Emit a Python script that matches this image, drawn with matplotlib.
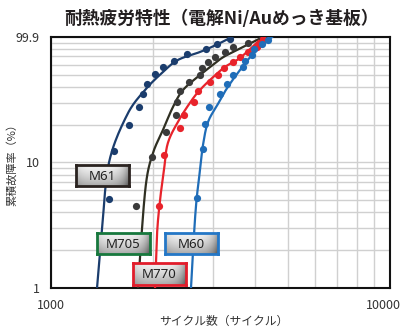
import numpy as np
import matplotlib
matplotlib.use('Agg')
import matplotlib.pyplot as plt
import matplotlib.transforms as mtransforms
from matplotlib.ticker import LogLocator, NullFormatter

plt.rcParams['font.family'] = ['Noto Sans CJK JP', 'DejaVu Sans']

# measured points: cycles to failure and cumulative failure rate (%)
m61_cycles = [1483, 1534, 1699, 1818, 1868, 1920, 2027, 2140, 2306, 2519, 2865, 3088, 3373]
m61_pct = [5.1, 12.4, 19.9, 27.7, 35.1, 42.2, 50.7, 57.7, 64.4, 73.2, 80.2, 87.9, 96.4]

m705_cycles = [1781, 1986, 2184, 2338, 2354, 2402, 2554, 2751, 2789, 2905, 3046, 3261, 3443, 3813, 4193]
m705_pct = [4.5, 11.1, 17.5, 23.9, 30.3, 37.1, 43.8, 49.8, 56.6, 63.2, 69.3, 75.9, 83.2, 89.6, 95.5]

m770_cycles = [2083, 2154, 2402, 2468, 2642, 2714, 2944, 3109, 3239, 3443, 3611, 3813, 4053, 4136, 4222]
m770_pct = [4.5, 11.4, 18.8, 23.9, 30.3, 37.1, 43.8, 49.8, 56.6, 63.2, 69.3, 75.9, 83.2, 89.6, 95.5]

m60_cycles = [2696, 2808, 2847, 2925, 3151, 3306, 3443, 3686, 3736, 3918, 3972, 4193, 4368]
m60_pct = [5.2, 12.7, 20.1, 27.6, 35.1, 42.5, 50.0, 57.5, 64.9, 72.4, 79.9, 87.3, 94.8]

# fitted distribution lines (cycles, %)
m61_fit_cycles = [1367, 1414, 1483, 1676, 1894, 2140, 2369, 2751, 3068, 3418]
m61_fit_pct = [1, 2.9, 10, 23.9, 37.8, 52.6, 65.6, 75.9, 86.3, 99.9]

m705_fit_cycles = [1806, 1840, 1908, 1999, 2140, 2290, 2452, 2751, 3001, 3195, 3443, 4222]
m705_fit_pct = [1, 2.2, 6.9, 11.9, 18.2, 27.7, 37.8, 49.8, 59.8, 68.1, 75.9, 99.9]

m770_fit_cycles = [2027, 2055, 2097, 2154, 2212, 2386, 2605, 2751, 2944, 3261, 3611, 4222]
m770_fit_pct = [1, 2.7, 5.0, 8.7, 14.3, 21.8, 31.5, 37.8, 45.4, 57.7, 68.1, 99.9]

m60_fit_cycles = [2588, 2624, 2679, 2751, 2808, 2905, 3109, 3280, 3538, 3944, 4489]
m60_fit_pct = [1, 2.0, 4.6, 8.7, 13.8, 21.0, 29.3, 37.8, 50.7, 73.2, 99.9]

names = ['M61', 'M705', 'M770', 'M60']
line_colors = ['#1b3d6d', '#2f2f22', '#e8232b', '#1f6db8']
dot_colors = ['#1b3d6d', '#3a3a3a', '#e8232b', '#1f6db8']
box_colors = ['#2a2320', '#17783d', '#e11d2b', '#2477c6']
# label boxes in pixels: left, top, right, bottom
box_px = [(76, 165, 129, 186), (97, 233, 150, 254), (133, 263, 186, 285), (165, 233, 218, 254)]

points = [(m61_cycles, m61_pct), (m705_cycles, m705_pct),
          (m770_cycles, m770_pct), (m60_cycles, m60_pct)]
fits = [(m61_fit_cycles, m61_fit_pct), (m705_fit_cycles, m705_fit_pct),
        (m770_fit_cycles, m770_fit_pct), (m60_fit_cycles, m60_fit_pct)]


def smooth(xs, ys, n=20):
    # catmull-rom through the points, done in log-log space
    P = np.column_stack([np.log10(xs), np.log10(ys)])
    P = np.vstack([2 * P[0] - P[1], P, 2 * P[-1] - P[-2]])
    out = []
    s = np.linspace(0, 1, n, endpoint=False)[:, None]
    for i in range(1, len(P) - 2):
        p0, p1, p2, p3 = P[i - 1], P[i], P[i + 1], P[i + 2]
        seg = 0.5 * ((2 * p1) + (-p0 + p2) * s + (2 * p0 - 5 * p1 + 4 * p2 - p3) * s ** 2
                     + (-p0 + 3 * p1 - 3 * p2 + p3) * s ** 3)
        out.append(seg)
    out.append(P[-2][None, :])
    out = np.vstack(out)
    return 10 ** out[:, 0], 10 ** out[:, 1]


W, H = 406, 329
fig = plt.figure(figsize=(W / 100, H / 100), dpi=100)
ax = fig.add_axes([51 / W, 1 - 288 / H, 339 / W, 251 / H])

for (t, p), (ft, fp), lc, dc in zip(points, fits, line_colors, dot_colors):
    cx, cy = smooth(ft, fp)
    ax.plot(cx, cy, color=lc, lw=1.6, zorder=3)
    ax.plot(t, p, 'o', color=dc, ms=5.2, mec='none', zorder=4)

ax.set_xscale('log')
ax.set_yscale('log')
ax.set_xlim(1000, 10000)
ax.set_ylim(1, 99.9)
ax.set_xticks([1000, 10000])
ax.set_xticklabels(['1000', '10000'])
ax.set_yticks([1, 10, 99.9])
ax.set_yticklabels(['1', '10', '99.9'])
ax.xaxis.set_minor_locator(LogLocator(base=10, subs=np.arange(2, 10)))
ax.yaxis.set_minor_locator(LogLocator(base=10, subs=np.arange(2, 10)))
ax.xaxis.set_minor_formatter(NullFormatter())
ax.yaxis.set_minor_formatter(NullFormatter())
ax.grid(True, which='both', color='#d0d0d0', lw=1.0, zorder=0)
ax.tick_params(which='both', length=0, labelsize=9, colors='#333333', pad=8)
for s in ax.spines.values():
    s.set_linewidth(1.5)
    s.set_color('#111111')

# keep the right-hand x label inside the figure
shift = mtransforms.ScaledTranslation(-5 / 72, 0, fig.dpi_scale_trans)
last = ax.get_xticklabels()[-1]
last.set_transform(last.get_transform() + shift)

fig.text(222 / W, 1 - 19 / H, '耐熱疲労特性（電解Ni/Auめっき基板）', ha='center', va='center',
         fontsize=12.8, fontweight='bold', color='#231f20')
fig.text(224 / W, 1 - 321 / H, 'サイクル数（サイクル）', ha='center', va='center',
         fontsize=8.5, color='#333333')
fig.text(12 / W, 1 - 162 / H, '累積故障率（%）', ha='center', va='center',
         rotation=90, fontsize=8, color='#333333')

# silver gradient for the name tags
gy, gx = np.mgrid[0:1:40j, 0:1:120j]
grad = 0.95 - 0.28 * gy ** 1.4 - 0.35 * gx ** 8 - 0.12 * (1 - gx) ** 10
for name, bc, (x0, y0, x1, y1) in zip(names, box_colors, box_px):
    bax = fig.add_axes([x0 / W, 1 - y1 / H, (x1 - x0) / W, (y1 - y0) / H])
    bax.imshow(grad, cmap='gray', vmin=0, vmax=1, aspect='auto', extent=(0, 1, 0, 1))
    bax.set_xticks([])
    bax.set_yticks([])
    for s in bax.spines.values():
        s.set_color(bc)
        s.set_linewidth(2)
    bax.text(0.5, 0.47, name, ha='center', va='center', fontsize=9.5,
             color='#222222', family='Noto Sans')

fig.savefig('out.png', dpi=100)
